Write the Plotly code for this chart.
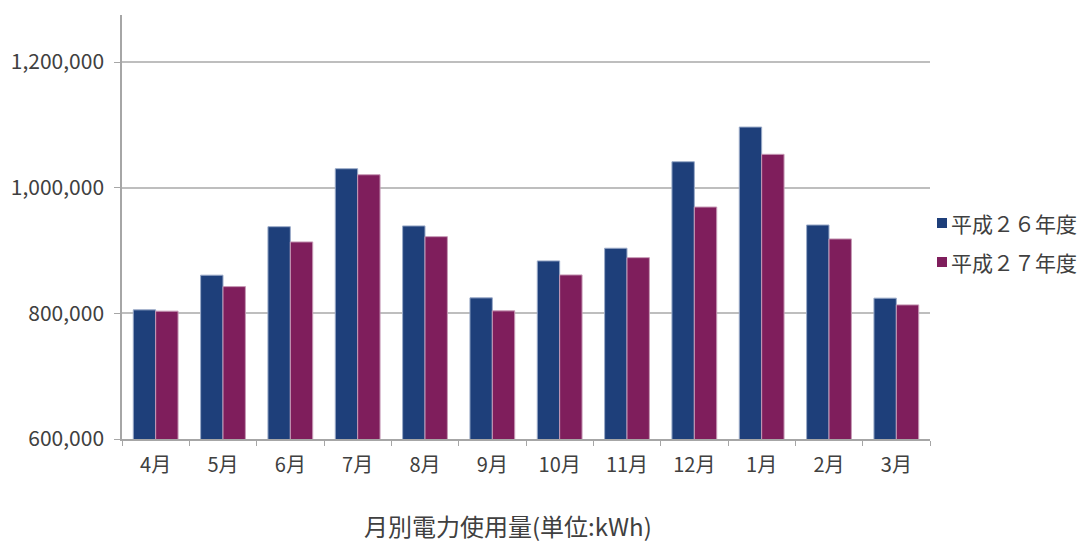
import plotly.graph_objects as go

months = ["4月", "5月", "6月", "7月", "8月", "9月", "10月", "11月", "12月", "1月", "2月", "3月"]
fy26_name = "平成２６年度"
fy27_name = "平成２７年度"
fy26 = [805600, 860800, 938000, 1030300, 939200, 824700, 883500, 903700, 1041400, 1096600, 940700, 824200]
fy27 = [803500, 842600, 913700, 1020700, 922100, 804000, 861200, 888700, 969300, 1053200, 918500, 813500]
y_ticks = [600000, 800000, 1000000, 1200000]
x_title = "月別電力使用量(単位:kWh)"

FONT = "Noto Sans CJK JP, Noto Sans, sans-serif"
TEXT = "#404040"
BLUE = "#1E3F7A"
PURPLE = "#7F1E5C"

W, H = 1080, 542
L, R, T, B = 122, 150, 15, 103
PW, PH = W - L - R, H - T - B


def px_x(px):
    return (px - L) / PW


def px_y(py):
    return (H - B - py) / PH


fig = go.Figure()
fig.add_trace(go.Bar(
    name=fy26_name, x=months, y=fy26, showlegend=False,
    marker=dict(color=BLUE, line=dict(color="#9AAAC8", width=1)),
))
fig.add_trace(go.Bar(
    name=fy27_name, x=months, y=fy27, showlegend=False,
    marker=dict(color=PURPLE, line=dict(color="#C79AB6", width=1)),
))

fig.update_layout(
    width=W, height=H,
    margin=dict(l=L, r=R, t=T, b=B, autoexpand=False),
    paper_bgcolor="white", plot_bgcolor="white",
    barmode="group", bargap=0.335, bargroupgap=0,
    font=dict(family=FONT, color=TEXT, size=20),
)

fig.update_xaxes(
    showline=True, linecolor="#A6A6A6", linewidth=1.5,
    ticks="outside", ticklen=5, tickcolor="#A6A6A6",
    tickson="boundaries",
    showgrid=False,
    ticklabelstandoff=7,
    tickfont=dict(size=20, color=TEXT),
)
fig.update_yaxes(
    range=[600000, 1275000],
    tickvals=y_ticks, tickformat=",",
    showline=True, linecolor="#A6A6A6", linewidth=1.5,
    ticks="outside", ticklen=6, tickcolor="#A6A6A6",
    showgrid=True, gridcolor="#BEBEBE", gridwidth=1.5,
    zeroline=False,
    ticklabelstandoff=6,
    tickfont=dict(size=21, color=TEXT),
)

# legend: colour keys and series names
for name, color, cy in [(fy26_name, BLUE, 223), (fy27_name, PURPLE, 262)]:
    fig.add_shape(
        type="rect", xref="paper", yref="paper",
        x0=px_x(937), x1=px_x(947), y0=px_y(cy + 5), y1=px_y(cy - 5),
        fillcolor=color, line=dict(width=0),
    )
    fig.add_annotation(
        text=name, xref="paper", yref="paper",
        x=px_x(949), y=px_y(cy), xanchor="left", yanchor="middle",
        showarrow=False, font=dict(size=21, color=TEXT),
    )

fig.add_annotation(
    text=x_title, xref="paper", yref="paper",
    x=px_x(508), y=px_y(525),
    xanchor="center", yanchor="middle",
    showarrow=False, font=dict(size=24, color=TEXT),
)

fig.write_html("out.html")
